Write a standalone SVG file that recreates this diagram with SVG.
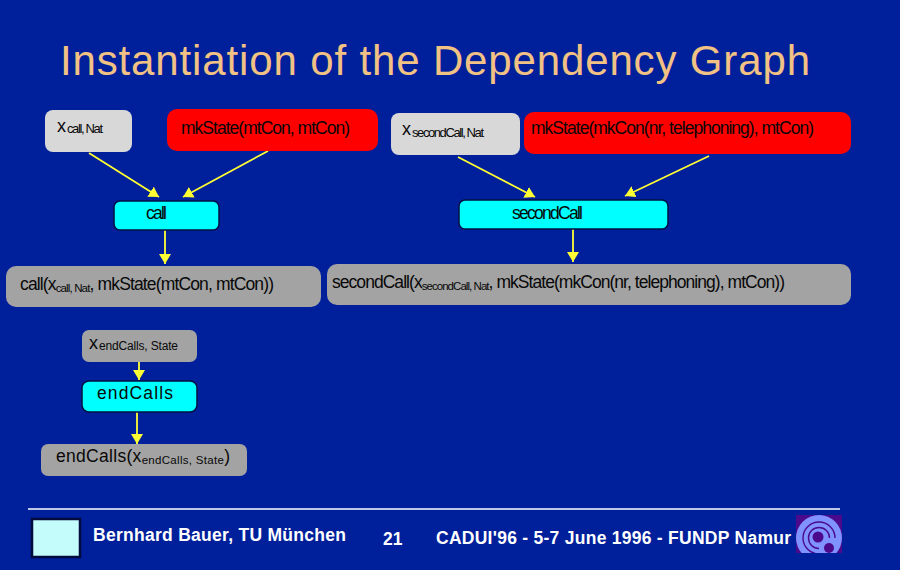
<svg xmlns="http://www.w3.org/2000/svg" width="900" height="570" viewBox="0 0 900 570">
<style>
text{font-family:"Liberation Sans",Arial,sans-serif;fill:#080808}
.t{font-size:17.5px}
.sm{font-size:11.500px}
.title{font-size:42px}
.foot{font-size:17.500px;font-weight:bold;fill:#fff}
.gl{fill:#d8d8d8}.gd{fill:#a3a3a3}.r{fill:#fe0000}
.c{fill:#00ffff;stroke:#001040;stroke-width:1.5}
.e{stroke:#ffff33;stroke-width:1.8;fill:none;marker-end:url(#a)}
.lp{fill:#4b0a8c}
.la{fill:none;stroke:#4b0a8c;stroke-width:1.4}
</style>
<defs>
<marker id="a" markerUnits="userSpaceOnUse" markerWidth="10" markerHeight="12" refX="10" refY="6" orient="auto" viewBox="0 0 10 12"><path d="M0 0L10 6L0 12Z" fill="#ffff33"/></marker>
<clipPath id="lc"><rect x="796" y="515" width="46" height="38"/></clipPath>
</defs>
<rect width="900" height="570" fill="#00209b"/>
<text id="title" class="title" x="60" y="75" textLength="750" lengthAdjust="spacing" style="fill:#f2c184;stroke:#5a6498;stroke-width:0">Instantiation of the Dependency Graph</text>

<g id="connectors">
<line class="e" x1="89" y1="153" x2="159" y2="197"/>
<line class="e" x1="268" y1="151" x2="183" y2="197"/>
<line class="e" x1="165" y1="229" x2="165" y2="264"/>
<line class="e" x1="458" y1="157" x2="535" y2="197"/>
<line class="e" x1="709" y1="156" x2="625" y2="196"/>
<line class="e" x1="573" y1="228" x2="573" y2="262"/>
<line class="e" x1="139" y1="361" x2="139" y2="380"/>
<line class="e" x1="137" y1="411" x2="137" y2="444"/>
</g>

<g id="n1"><rect class="gl" x="45" y="110" width="87" height="42" rx="8"/><text x="57" y="132" style="font-size:18px">x</text><text x="67" y="133" style="font-size:13px" textLength="36" lengthAdjust="spacing">call, Nat</text></g>
<g id="n2"><rect class="r" x="167" y="109" width="211" height="42" rx="10"/><text x="181" y="134" class="t" textLength="169" lengthAdjust="spacing">mkState(mtCon, mtCon)</text></g>
<g id="n3"><rect class="gl" x="391" y="113" width="129" height="42" rx="8"/><text x="402" y="135" style="font-size:18px">x</text><text x="412" y="137" style="font-size:13px" textLength="72" lengthAdjust="spacing">secondCall, Nat</text></g>
<g id="n4"><rect class="r" x="524" y="112" width="327" height="42" rx="10"/><text x="531" y="134" class="t" textLength="283" lengthAdjust="spacing">mkState(mkCon(nr, telephoning), mtCon)</text></g>
<g id="n5"><rect class="c" x="114" y="201" width="105" height="29" rx="6"/><text x="146" y="219" class="t" textLength="21" lengthAdjust="spacing">call</text></g>
<g id="n6"><rect class="c" x="459" y="200" width="209" height="29" rx="6"/><text x="512" y="219" class="t" textLength="71" lengthAdjust="spacing">secondCall</text></g>
<g id="n7"><rect class="gd" x="6" y="266" width="315" height="41" rx="10"/><text x="20" y="290" class="t" textLength="254" lengthAdjust="spacing">call(x<tspan class="sm" dy="2">call, Nat</tspan><tspan dy="-2">, mkState(mtCon, mtCon))</tspan></text></g>
<g id="n8"><rect class="gd" x="327" y="264" width="524" height="41" rx="10"/><text x="332" y="288" class="t" textLength="453" lengthAdjust="spacing">secondCall(x<tspan class="sm" dy="2">secondCall, Nat</tspan><tspan dy="-2">, mkState(mkCon(nr, telephoning), mtCon))</tspan></text></g>
<g id="n9"><rect class="gd" x="82" y="330" width="115" height="32" rx="7"/><text x="89" y="349" style="font-size:18px">x</text><text x="99" y="350" style="font-size:12px" textLength="79" lengthAdjust="spacing">endCalls, State</text></g>
<g id="n10"><rect class="c" x="82" y="381" width="115" height="31" rx="7"/><text x="97" y="399" class="t" textLength="76" lengthAdjust="spacing">endCalls</text></g>
<g id="n11"><rect class="gd" x="41" y="444" width="206" height="32" rx="7"/><text x="56" y="462" class="t" textLength="174" lengthAdjust="spacing">endCalls(x<tspan class="sm" dy="2">endCalls, State</tspan><tspan dy="-2">)</tspan></text></g>

<line x1="28" y1="509" x2="840" y2="509" stroke="#fff" stroke-width="1.6"/>
<rect id="box" x="32" y="519" width="48" height="38" fill="#c4fcfc" stroke="#000a3c" stroke-width="2.5"/>
<text class="foot" x="93" y="541" textLength="253" lengthAdjust="spacing">Bernhard Bauer, TU München</text>
<text class="foot" x="383" y="545">21</text>
<text class="foot" x="436" y="544" textLength="355" lengthAdjust="spacing">CADUI'96 - 5-7 June 1996 - FUNDP Namur</text>
<g id="logo" clip-path="url(#lc)">
<rect x="796" y="515" width="46" height="38" class="lp"/>
<circle cx="819" cy="538" r="23" fill="#7f92ff"/>
<path class="la" d="M819 554A16 16 0 1 1 835 538"/>
<path class="la" d="M819 548.500A10.500 10.500 0 1 1 829.500 538"/>
<circle cx="818" cy="537" r="5.500" class="lp"/>
<circle cx="829" cy="548" r="5" class="lp"/>
</g>
</svg>
